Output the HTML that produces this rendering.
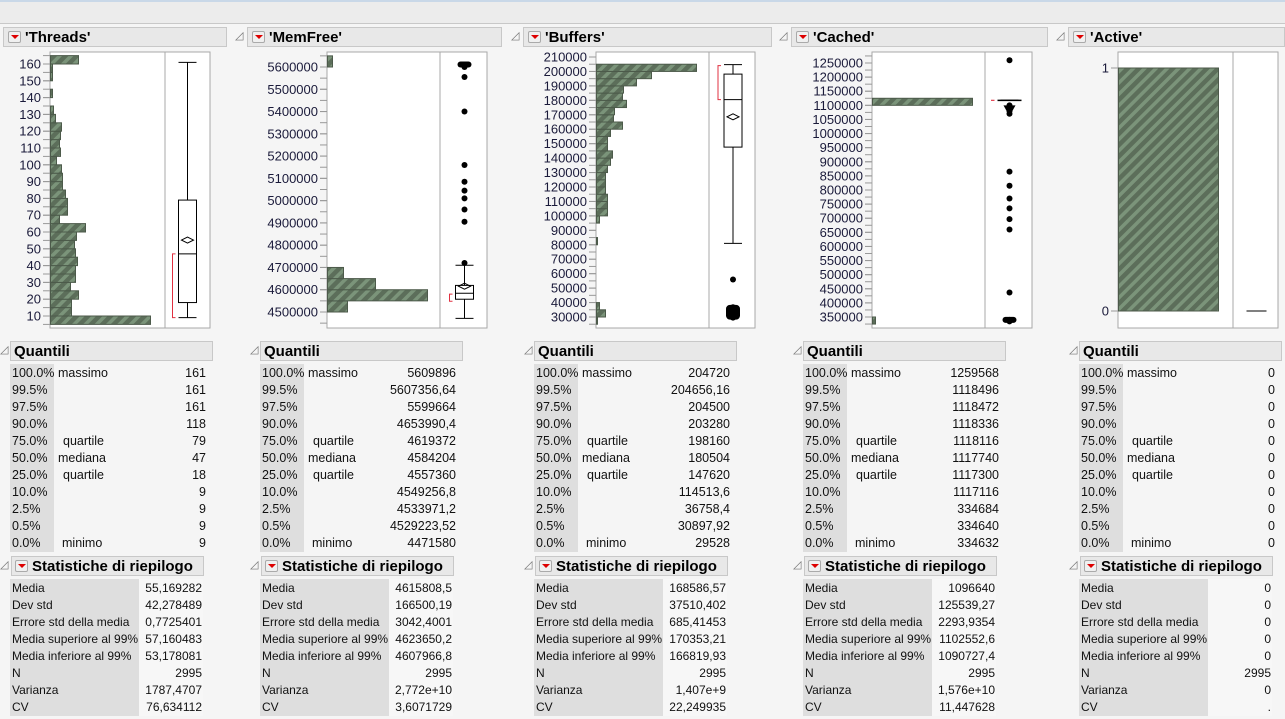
<!DOCTYPE html>
<html><head><meta charset="utf-8">
<style>
body{margin:0;width:1285px;height:719px;background:#f5f5f5;font-family:"Liberation Sans",sans-serif;overflow:hidden;position:relative}
.abs{position:absolute}
.hdr{position:absolute;height:20px;background:#e8e8e8;border:1px solid #c8c8c8;box-sizing:border-box;font-weight:bold;font-size:15px;line-height:19px;color:#000;white-space:nowrap}
.dd{display:inline-block;width:11px;height:10px;border:1px solid #aaa;background:#f0f0f0;vertical-align:middle;margin:0 4px 2px 4px;position:relative;border-radius:2px}
.dd:after{content:"";position:absolute;left:2px;top:3px;border-left:4px solid transparent;border-right:4px solid transparent;border-top:4px solid #d00}
.tri{position:absolute;font-size:11px;color:#777}
.row{position:absolute;font-size:12.5px;height:17px;line-height:17px;color:#111;white-space:nowrap}
.srow{font-size:12px}
</style></head><body>
<div class="abs" style="left:0;top:0;width:1285px;height:24px;background:#ececec;border-top:2px solid #c9d8e8;border-bottom:1px solid #c8c8c8;box-sizing:border-box"></div>
<svg id="g" class="abs" style="left:0;top:0" width="1285" height="719">
<defs><pattern id="hatch" patternUnits="userSpaceOnUse" width="8" height="8" patternTransform="rotate(45)">
<rect width="8" height="8" fill="#5c6e5a"/><rect width="3.5" height="8" fill="#7b947a"/></pattern></defs>
</svg>
<div id="tables"></div>
<script>
// ---- data ----
const threadsBins=[5,10,15,20,25,30,35,40,45,50,55,60,65,70,75,80,85,90,95,100,105,110,115,120,125,130,135,140,145,150,155,160];
const threadsCounts=[100,21,21,28,20,25,25,27,25,24,26,35,9,17,17,15,12,12,11,6,10,9,10,11,5,3,0,2,0,2,2,28];
const memBins=[4500000,4550000,4600000,4650000,5600000];
const memCounts=[20,100,48,16,5];
const bufBins=[25000,30000,35000,80000,95000,100000,105000,110000,115000,120000,125000,130000,135000,140000,145000,150000,155000,160000,165000,170000,175000,180000,185000,190000,195000,200000];
const bufCounts=[1,9,3,1,3,11,11,11,9,9,9,11,14,16,11,11,14,26,17,18,30,26,27,40,55,100];
const cacBins=[325000,1100000];
const cacCounts=[3,100];
const actBins=[0];
const actCounts=[100];
const threadsTicks=[10,20,30,40,50,60,70,80,90,100,110,120,130,140,150,160];
const memTicks=[4500000,4600000,4700000,4800000,4900000,5000000,5100000,5200000,5300000,5400000,5500000,5600000];
const bufTicks=[30000,40000,50000,60000,70000,80000,90000,100000,110000,120000,130000,140000,150000,160000,170000,180000,190000,200000,210000];
const cacTicks=[350000,400000,450000,500000,550000,600000,650000,700000,750000,800000,850000,900000,950000,1000000,1050000,1100000,1150000,1200000,1250000];
const actTicks=[0,1];
const memOutliers=[4720000,4905000,4960000,5010000,5045000,5085000,5160000,5400000,5555000,5600000,5603000,5606000,5609896];
const bufOutliers=[56000,29528,31000,32500,34000,35500,36758];
const cacOutliers=[1259568,1100000,1090000,1080000,1070000,865000,815000,770000,735000,697000,660000,437000,334632,336000,338000,340000];
const quantPct=["100.0%","99.5%","97.5%","90.0%","75.0%","50.0%","25.0%","10.0%","2.5%","0.5%","0.0%"];
const quantLab=["massimo","","","","quartile","mediana","quartile","","","","minimo"];
const statLab=["Media","Dev std","Errore std della media","Media superiore al 99%","Media inferiore al 99%","N","Varianza","CV"];
const threadsQ=["161","161","161","118","79","47","18","9","9","9","9"];
const memQ=["5609896","5607356,64","5599664","4653990,4","4619372","4584204","4557360","4549256,8","4533971,2","4529223,52","4471580"];
const bufQ=["204720","204656,16","204500","203280","198160","180504","147620","114513,6","36758,4","30897,92","29528"];
const cacQ=["1259568","1118496","1118472","1118336","1118116","1117740","1117300","1117116","334684","334640","334632"];
const actQ=["0","0","0","0","0","0","0","0","0","0","0"];
const threadsS=["55,169282","42,278489","0,7725401","57,160483","53,178081","2995","1787,4707","76,634112"];
const memS=["4615808,5","166500,19","3042,4001","4623650,2","4607966,8","2995","2,772e+10","3,6071729"];
const bufS=["168586,57","37510,402","685,41453","170353,21","166819,93","2995","1,407e+9","22,249935"];
const cacS=["1096640","125539,27","2293,9354","1102552,6","1090727,4","2995","1,576e+10","11,447628"];
const actS=["0","0","0","0","0","2995","0","."];

const NS="http://www.w3.org/2000/svg";
const svg=document.getElementById('g');
function mk(tag,attrs,name){const e=document.createElementNS(NS,tag);for(const k in attrs)e.setAttribute(k,attrs[k]);


svg.appendChild(e);return e;}

const panels=[
 {title:"Threads",hx:3,hw:224,fl:50,fd:165,fr:210,v1:160,y1:64,v0:10,y0:316,binW:5,bins:threadsBins,counts:threadsCounts,ticks:threadsTicks,minor:5,
  box:{q1:18,q3:79,med:47,mean:55.17,lo:9,hi:161,hw:9,br:[9,47],out:[]},tx:10,q:threadsQ,s:threadsS},
 {title:"MemFree",hx:247,hw:255,fl:327,fd:440,fr:487,v1:5600000,y1:67,v0:4500000,y0:312,binW:50000,bins:memBins,counts:memCounts,ticks:memTicks,minor:50000,
  box:{q1:4557360,q3:4619372,med:4584204,mean:4615808,lo:4471580,hi:4710000,hw:9,br:[4548000,4580000],out:memOutliers},tx:260,q:memQ,s:memS},
 {title:"Buffers",hx:523,hw:249,fl:596,fd:709,fr:755,v1:210000,y1:57,v0:30000,y0:317,binW:5000,bins:bufBins,counts:bufCounts,ticks:bufTicks,minor:5000,
  box:{q1:147620,q3:198160,med:180504,mean:168587,lo:81000,hi:204720,hw:9,br:[180504,204000],out:bufOutliers},tx:534,q:bufQ,s:bufS},
 {title:"Cached",hx:791,hw:257,fl:872,fd:985,fr:1032,v1:1250000,y1:63,v0:350000,y0:317,binW:25000,bins:cacBins,counts:cacCounts,ticks:cacTicks,minor:25000,
  box:{q1:1117300,q3:1118116,med:1117740,mean:1117740,lo:1117000,hi:1118496,hw:12,br:[1117500,1118000],out:cacOutliers},tx:803,q:cacQ,s:cacS},
 {title:"Active",hx:1068,hw:217,fl:1118,fd:1233,fr:1278,v1:1,y1:68,v0:0,y0:311,binW:1,bins:actBins,counts:actCounts,ticks:actTicks,minor:0,
  box:{q1:0,q3:0,med:0,mean:0,lo:0,hi:0,hw:10,br:null,out:[]},tx:1079,q:actQ,s:actS}
];

let html='';
panels.forEach((p,pi)=>{
  const key=p.title.toLowerCase();
  const Y=v=>p.y0+(v-p.v0)*(p.y1-p.y0)/(p.v1-p.v0);
  const maxC=Math.max(...p.counts);
  const X=c=>p.fl+c/maxC*100;
  html+=`<div class="hdr" style="left:${p.hx}px;top:27px;width:${p.hw}px"><span class="dd"></span>'${p.title}'</div>`;
  if(pi>0) html+=`<div class="tri" style="left:${p.hx-12}px;top:29px">◿</div>`;
  mk('rect',{x:p.fl,y:52,width:p.fr-p.fl,height:276,fill:'#fff',stroke:'#a8a8a8'},key+'-plot-frame');
  mk('line',{x1:p.fd,y1:52,x2:p.fd,y2:328,stroke:'#a8a8a8'},key+'-plot-divider');
  if(p.minor){for(let v=p.v0-p.minor;v<=p.v1+p.minor*1.01;v+=p.minor){const y=Y(v);if(y<54||y>326)continue;
    mk('line',{x1:p.fl-7,y1:y,x2:p.fl,y2:y,stroke:'#999'},key+'-tick');}}
  p.ticks.forEach(t=>{const y=Y(t);
    mk('line',{x1:p.fl-7,y1:y,x2:p.fl,y2:y,stroke:'#999'},key+'-tick');
    const tx=mk('text',{x:p.fl-9,y:y+4.5,'text-anchor':'end','font-size':13,fill:'#1a1a3a','font-family':'Liberation Sans'},key+'-y-tick-label');tx.textContent=String(t);});
  p.bins.forEach((b,i)=>{const c=p.counts[i];if(c<=0)return;const yT=Y(b+p.binW),yB=Y(b);
    mk('rect',{x:p.fl+0.5,y:yT,width:X(c)-p.fl,height:yB-yT,fill:'url(#hatch)',stroke:'#4c5a4a','stroke-width':1},key+'-histogram-bar');});
  const bx=p.box,cx=(p.fd+p.fr)/2+(pi===0?0:1);
  if(bx.hi!==bx.lo){
    mk('line',{x1:cx,y1:Y(bx.hi),x2:cx,y2:Y(bx.q3),stroke:'#000'},key+'-upper-whisker');
    mk('line',{x1:cx,y1:Y(bx.q1),x2:cx,y2:Y(bx.lo),stroke:'#000'},key+'-lower-whisker');
    mk('line',{x1:cx-9,y1:Y(bx.hi),x2:cx+9,y2:Y(bx.hi),stroke:'#000'},key+'-whisker-cap');
    mk('line',{x1:cx-9,y1:Y(bx.lo),x2:cx+9,y2:Y(bx.lo),stroke:'#000'},key+'-whisker-cap');
    const yq3=Y(bx.q3),yq1=Y(bx.q1);
    if(yq1-yq3>2){
      mk('rect',{x:cx-bx.hw,y:yq3,width:bx.hw*2,height:yq1-yq3,fill:'none',stroke:'#000'},key+'-box');
      mk('line',{x1:cx-bx.hw,y1:Y(bx.med),x2:cx+bx.hw,y2:Y(bx.med),stroke:'#000'},key+'-median-line');
      const ym=Y(bx.mean);
      mk('path',{d:`M${cx-6},${ym} L${cx},${ym-3} L${cx+6},${ym} L${cx},${ym+3} Z`,fill:'none',stroke:'#000'},key+'-mean-diamond');
    } else {
      mk('line',{x1:cx-bx.hw,y1:Y(bx.med),x2:cx+bx.hw,y2:Y(bx.med),stroke:'#000','stroke-width':1.5},key+'-box');
    }
  } else {
    mk('line',{x1:cx-bx.hw,y1:Y(bx.med),x2:cx+bx.hw,y2:Y(bx.med),stroke:'#000'},key+'-box');
  }
  if(bx.br){const a=Y(bx.br[0]),b=Y(bx.br[1]);const bxl=cx-bx.hw-6;
    mk('path',{d:`M${bxl+3},${a} L${bxl},${a} L${bxl},${b} L${bxl+3},${b}`,fill:'none',stroke:'#e03040'},key+'-shortest-half-bracket');}
  bx.out.forEach(o=>{mk('circle',{cx:cx,cy:Y(o),r:3,fill:'#000'},key+'-outlier-point');});
  if(key==='memfree'){mk('rect',{x:cx-7,y:Y(5611000)-3,width:14,height:6,rx:3,fill:'#000'},key+'-outlier-cluster');}
  if(key==='buffers'){mk('rect',{x:cx-7,y:Y(37000)-2,width:14,height:Y(29528)-Y(37000)+4,rx:4,fill:'#000'},key+'-outlier-cluster');}
  if(key==='cached'){mk('rect',{x:cx-7,y:Y(340000)-3,width:14,height:6,rx:3,fill:'#000'},key+'-outlier-cluster');
    mk('path',{d:`M${cx-6},${Y(1100000)} L${cx+6},${Y(1100000)} L${cx+1},${Y(1068000)} L${cx-1},${Y(1068000)} Z`,fill:'#000'},key+'-outlier-cluster');}
  const t=p.tx,W=201;
  html+=`<div class="tri" style="left:${t-10}px;top:343px">◿</div>`;
  html+=`<div class="hdr" style="left:${t}px;top:341px;width:${W+2}px;padding-left:3px">Quantili</div>`;
  html+=`<div class="abs" style="left:${t}px;top:364px;width:44px;height:188px;background:#dedede"></div>`;
  for(let i=0;i<11;i++){const y=365+i*17;
    html+=`<div class="row" style="left:${t+2}px;top:${y}px">${quantPct[i]}</div>`;
    if(quantLab[i]){const ind=quantLab[i]==='massimo'||quantLab[i]==='mediana'?48:(quantLab[i]==='quartile'?53:52);
      html+=`<div class="row" style="left:${t+ind}px;top:${y}px">${quantLab[i]}</div>`;}
    html+=`<div class="row" style="left:${t}px;width:${W-5}px;text-align:right;top:${y}px">${p.q[i]}</div>`;
  }
  html+=`<div class="tri" style="left:${t-10}px;top:558px">◿</div>`;
  html+=`<div class="hdr" style="left:${t+1}px;top:556px;width:${W-8}px"><span class="dd" style="margin-left:3px"></span>Statistiche di riepilogo</div>`;
  html+=`<div class="abs" style="left:${t}px;top:579px;width:129px;height:137px;background:#dedede"></div>`;
  html+=`<div class="abs" style="left:${t+129}px;top:579px;width:64px;height:137px;background:#f7f7f7"></div>`;
  for(let i=0;i<8;i++){const y=580+i*17;
    html+=`<div class="row srow" style="left:${t+2}px;top:${y}px">${statLab[i]}</div>`;
    html+=`<div class="row srow" style="left:${t}px;width:192px;text-align:right;top:${y}px">${p.s[i]}</div>`;
  }
});
document.getElementById('tables').innerHTML=html;
</script>
</body></html>
